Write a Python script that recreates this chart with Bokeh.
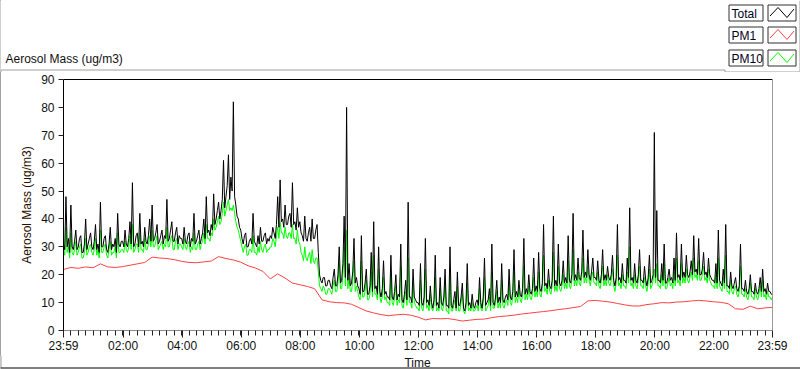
import numpy as np
from bokeh.plotting import figure
from bokeh.layouts import column
from bokeh.models import Range1d, FixedTicker, LinearAxis
from bokeh.core.properties import value
from bokeh.embed import file_html
from bokeh.resources import INLINE

# time axis: minutes since 23:59 of the previous day
STEP_MIN = 2.5
PM1_STEP_MIN = 15

TOTAL = [
    31, 29, 48, 30, 33, 28, 45, 30, 29, 32, 36, 29, 30, 33, 34, 28, 28, 31, 40, 29, 31, 33, 35, 30,
    29, 32, 38, 29, 31, 28, 46, 30, 30, 33, 34, 29, 28, 31, 37, 29, 31, 30, 33, 28, 42, 31, 30, 32,
    32, 30, 36, 31, 30, 33, 39, 31, 53, 30, 31, 34, 35, 30, 42, 31, 32, 30, 37, 32, 31, 34, 40, 32,
    45, 32, 33, 35, 38, 31, 32, 34, 36, 31, 34, 33, 47, 32, 33, 36, 39, 32, 32, 35, 37, 31, 34, 33,
    33, 31, 37, 32, 31, 34, 35, 30, 33, 32, 42, 31, 32, 34, 36, 31, 33, 35, 40, 33, 48, 35, 36, 34,
    38, 36, 49, 38, 40, 43, 46, 40, 43, 47, 61, 44, 48, 52, 63, 47, 55, 50, 82, 48, 45, 41, 40, 37,
    36, 33, 31, 34, 35, 30, 30, 32, 33, 31, 42, 32, 31, 30, 34, 31, 37, 32, 32, 34, 35, 31, 33, 32,
    34, 33, 37, 35, 33, 38, 48, 37, 54, 39, 40, 37, 45, 38, 38, 41, 42, 37, 53, 38, 39, 36, 44, 37,
    39, 35, 34, 32, 41, 33, 32, 35, 37, 32, 40, 33, 33, 36, 38, 28, 20, 18, 17, 19, 19, 16, 16, 18,
    18, 16, 15, 19, 22, 16, 16, 20, 30, 17, 18, 24, 41, 19, 80, 18, 24, 16, 17, 21, 33, 17, 19, 16,
    15, 13, 34, 14, 14, 17, 22, 13, 13, 16, 28, 14, 39, 15, 16, 13, 30, 14, 12, 15, 25, 13, 14, 12,
    12, 11, 27, 12, 11, 14, 20, 11, 13, 12, 31, 11, 10, 13, 18, 11, 46, 12, 12, 10, 22, 12, 11, 10,
    10, 9, 24, 10, 9, 12, 33, 10, 11, 9, 16, 10, 8, 11, 27, 9, 10, 8, 19, 10, 9, 12, 22, 9,
    9, 8, 30, 9, 8, 11, 14, 8, 21, 9, 9, 12, 17, 8, 7, 10, 24, 9, 10, 8, 13, 9, 8, 10,
    11, 9, 19, 10, 8, 12, 26, 9, 10, 11, 15, 9, 31, 10, 9, 12, 18, 10, 12, 10, 24, 11, 10, 12,
    13, 11, 22, 12, 11, 14, 29, 12, 14, 12, 18, 13, 12, 15, 33, 13, 15, 13, 20, 14, 13, 15, 26, 14,
    16, 14, 28, 15, 14, 17, 38, 16, 17, 15, 22, 16, 15, 18, 41, 16, 18, 16, 31, 17, 16, 18, 25, 17,
    19, 17, 34, 18, 17, 20, 42, 18, 20, 18, 26, 19, 18, 21, 36, 19, 21, 19, 29, 20, 18, 21, 26, 19,
    19, 18, 25, 18, 17, 20, 29, 18, 20, 18, 23, 19, 18, 20, 27, 18, 16, 19, 38, 18, 19, 17, 24, 18,
    18, 17, 26, 19, 44, 18, 19, 17, 24, 18, 17, 20, 29, 18, 18, 17, 23, 18, 16, 19, 27, 17, 18, 20,
    71, 19, 43, 18, 18, 17, 24, 18, 31, 17, 17, 19, 22, 18, 19, 17, 26, 18, 35, 19, 20, 18, 31, 19,
    21, 19, 27, 20, 19, 21, 25, 20, 34, 21, 22, 20, 33, 20, 20, 22, 28, 20, 21, 19, 26, 20, 19, 18,
    18, 17, 24, 17, 36, 18, 17, 16, 22, 17, 38, 16, 16, 15, 21, 16, 15, 17, 19, 15, 14, 16, 31, 15,
    15, 14, 18, 14, 13, 15, 20, 14, 14, 13, 17, 14, 13, 15, 19, 14, 22, 14, 15, 13, 17, 14, 14, 13,
    13,
]

PM10 = [
    29, 27, 37, 28, 30, 26, 35, 28, 27, 29, 32, 27, 28, 30, 31, 26, 26, 28, 33, 27, 28, 30, 31, 28,
    27, 29, 33, 27, 29, 26, 36, 28, 28, 30, 31, 27, 26, 29, 32, 27, 28, 28, 30, 26, 35, 28, 28, 29,
    29, 28, 32, 29, 28, 30, 34, 29, 38, 28, 29, 31, 31, 28, 35, 29, 29, 28, 33, 29, 29, 31, 34, 30,
    36, 30, 30, 32, 34, 29, 30, 31, 32, 29, 31, 30, 37, 30, 30, 33, 34, 29, 29, 32, 33, 29, 31, 31,
    30, 29, 33, 30, 29, 31, 32, 28, 30, 29, 35, 29, 29, 31, 32, 29, 31, 32, 35, 31, 38, 33, 33, 32,
    35, 34, 40, 36, 37, 39, 41, 38, 39, 42, 46, 41, 43, 45, 47, 43, 44, 43, 45, 42, 39, 37, 36, 34,
    32, 30, 28, 30, 31, 27, 27, 29, 29, 28, 34, 28, 28, 27, 30, 28, 32, 29, 28, 30, 31, 28, 29, 29,
    30, 30, 33, 32, 30, 34, 37, 33, 39, 35, 35, 33, 37, 34, 33, 35, 35, 33, 38, 33, 33, 31, 36, 32,
    31, 28, 27, 25, 30, 26, 25, 27, 28, 24, 29, 25, 24, 26, 26, 21, 16, 15, 14, 16, 15, 13, 13, 15,
    15, 14, 13, 16, 18, 14, 14, 17, 24, 15, 15, 20, 30, 16, 36, 15, 19, 14, 14, 18, 25, 14, 16, 14,
    12, 11, 25, 12, 12, 14, 18, 11, 11, 13, 21, 12, 27, 13, 13, 11, 22, 12, 10, 12, 19, 11, 12, 10,
    10, 9, 20, 10, 9, 12, 16, 9, 11, 10, 23, 9, 8, 11, 14, 9, 26, 10, 10, 8, 17, 10, 9, 8,
    8, 7, 18, 8, 7, 10, 22, 8, 9, 7, 13, 8, 7, 9, 19, 7, 8, 7, 15, 8, 7, 10, 17, 7,
    7, 6, 20, 7, 7, 9, 11, 7, 16, 7, 7, 10, 13, 7, 6, 8, 17, 7, 8, 7, 10, 7, 7, 8,
    9, 7, 15, 8, 7, 10, 19, 7, 8, 9, 12, 7, 21, 8, 8, 10, 14, 8, 10, 8, 18, 9, 8, 10,
    11, 9, 17, 10, 9, 12, 21, 10, 12, 10, 15, 11, 10, 13, 23, 11, 13, 11, 16, 12, 11, 13, 19, 12,
    14, 12, 21, 13, 12, 15, 27, 14, 15, 13, 18, 14, 13, 16, 28, 14, 16, 14, 23, 15, 14, 16, 20, 15,
    17, 15, 25, 16, 15, 18, 29, 16, 18, 16, 21, 17, 16, 19, 26, 17, 19, 17, 23, 18, 16, 19, 21, 17,
    17, 16, 21, 16, 15, 18, 23, 16, 18, 16, 20, 17, 16, 18, 22, 16, 14, 17, 27, 16, 17, 15, 20, 16,
    16, 15, 21, 17, 30, 16, 17, 15, 20, 16, 15, 18, 23, 16, 16, 15, 19, 16, 14, 17, 22, 15, 16, 18,
    22, 17, 24, 16, 16, 15, 20, 16, 24, 15, 15, 17, 19, 16, 17, 15, 21, 16, 26, 17, 18, 16, 24, 17,
    19, 17, 22, 18, 17, 19, 21, 18, 26, 19, 20, 18, 25, 18, 18, 20, 23, 18, 19, 17, 22, 18, 17, 16,
    16, 15, 20, 15, 26, 16, 15, 14, 19, 15, 27, 14, 14, 13, 18, 14, 13, 15, 16, 13, 12, 14, 23, 13,
    13, 12, 15, 12, 11, 13, 17, 12, 12, 11, 15, 12, 11, 13, 16, 12, 18, 12, 13, 11, 14, 12, 12, 11,
    12,
]

PM1 = [
    21.9, 22.6, 22.3, 22.8, 22.5, 23.9, 22.8, 22.6,
    22.9, 23.4, 23.9, 24.4, 26.3, 26.0, 25.8, 25.4,
    24.8, 24.4, 24.3, 24.6, 24.9, 26.5, 25.8, 25.3,
    24.5, 23.2, 22.4, 21.2, 18.5, 20.3, 18.8, 17.0,
    16.4, 15.8, 15.0, 11.0, 10.3, 10.0, 9.9, 9.4,
    8.2, 7.0, 6.3, 5.7, 5.3, 5.6, 5.8, 5.5,
    4.8, 3.8, 4.3, 4.2, 4.3, 3.9, 3.4, 3.7,
    4.0, 4.1, 4.6, 5.0, 5.2, 5.5, 5.9, 6.2,
    6.5, 6.8, 7.1, 7.5, 7.8, 8.2, 8.6, 10.6,
    10.8, 10.5, 10.2, 9.7, 9.2, 8.8, 8.8, 9.3,
    9.6, 10.0, 9.9, 10.2, 10.3, 10.6, 10.8, 10.6,
    10.3, 10.1, 9.6, 7.8, 7.6, 8.7, 7.8, 8.1,
    8.3,
]

X_TICKS = [0, 121, 241, 361, 481, 601, 721, 841, 961, 1081, 1201, 1321, 1440]
X_LABELS = ["23:59", "02:00", "04:00", "06:00", "08:00", "10:00", "12:00",
            "14:00", "16:00", "18:00", "20:00", "22:00", "23:59"]
Y_TICKS = [0, 10, 20, 30, 40, 50, 60, 70, 80, 90]

SERIES_NAMES = ["Total", "PM1", "PM10"]
SERIES_COLORS = ["#000000", "#ff4040", "#00ff00"]
TITLE = "Aerosol Mass (ug/m3)"
X_TITLE = "Time"

FONT = "Liberation Sans"
TEXT_COLOR = "#101010"
PANEL_GRAY = "#a0a0a0"


def strip(height):
    f = figure(width=800, height=height, output_backend="svg", toolbar_location=None,
               x_range=Range1d(0, 800), y_range=Range1d(height, 0),
               x_axis_location=None, y_axis_location=None,
               min_border_left=0, min_border_right=0, min_border_top=0, min_border_bottom=0,
               outline_line_color=None, background_fill_color="white", border_fill_color="white")
    f.frame_align = False
    f.grid.visible = False
    return f


# ---------------- header strip: title + LabVIEW-style legend ----------------
TOP_H = 72
top = strip(TOP_H)
top.text(x=[5], y=[58], text=[TITLE], text_font=value(FONT), text_font_size=value("12px"),
         text_color=TEXT_COLOR, text_baseline="middle", text_align="left")
top.multi_line(xs=[[0.5, 0.5, 724.5, 724.5, 800], [799.5, 799.5]],
               ys=[[72, 69.5, 69.5, 71.5, 71.5], [0, 71.5]],
               line_color=PANEL_GRAY, line_width=1)

row_tops = [4.5, 26.5, 49.5]
row_h = 16
for name, color, rt in zip(SERIES_NAMES, SERIES_COLORS, row_tops):
    top.quad(left=[728.5, 767.5], right=[762.5, 795.5], top=[rt, rt], bottom=[rt + row_h, rt + row_h],
             fill_alpha=0, line_color="#303030", line_width=1)
    top.text(x=[731], y=[rt + row_h / 2 + 0.5], text=[name], text_font=value(FONT),
             text_font_size=value("12px"), text_color="#000020",
             text_baseline="middle", text_align="left")
    top.line(x=[769.5, 777.5, 786.5, 793.5], y=[rt + 11, rt + 2.5, rt + 12.5, rt + 4],
             line_color=color, line_width=1)

# ---------------- main chart ----------------
MAIN_H = 283
p = figure(width=800, height=MAIN_H, output_backend="svg", toolbar_location=None,
           x_range=Range1d(0, 1440), y_range=Range1d(0, 90),
           min_border_left=63, min_border_right=28, min_border_top=7, min_border_bottom=25,
           background_fill_color="white", border_fill_color=None,
           outline_line_color=None)
p.frame_align = False
p.grid.visible = False

t_total = np.arange(len(TOTAL)) * STEP_MIN
t_pm10 = np.arange(len(PM10)) * STEP_MIN
t_pm1 = np.arange(len(PM1)) * PM1_STEP_MIN

p.line(t_pm10, PM10, line_color=SERIES_COLORS[2], line_width=1)
p.line(t_pm1, PM1, line_color=SERIES_COLORS[1], line_width=1)
p.line(t_total, TOTAL, line_color=SERIES_COLORS[0], line_width=1)

xa = p.xaxis[0]
xa.ticker = FixedTicker(ticks=X_TICKS, minor_ticks=list(range(0, 1441, 15)))
xa.major_label_overrides = {t: l for t, l in zip(X_TICKS, X_LABELS)}
xa.axis_line_color = "#8a8a8a"
xa.major_tick_line_color = "#202020"
xa.minor_tick_line_color = "#202020"
xa.major_tick_out = 7
xa.major_tick_in = 0
xa.minor_tick_out = 5
xa.minor_tick_in = 0
xa.major_label_standoff = 1
xa.major_label_text_font = FONT
xa.major_label_text_font_size = "12px"
xa.major_label_text_color = TEXT_COLOR

ya = p.yaxis[0]
ya.ticker = FixedTicker(ticks=Y_TICKS, minor_ticks=[])
ya.axis_line_color = "#000000"
ya.major_tick_line_color = "#202020"
ya.major_tick_out = 5
ya.major_tick_in = 0
ya.minor_tick_out = 0
ya.minor_tick_in = 0
ya.major_label_standoff = 4
ya.major_label_text_font = FONT
ya.major_label_text_font_size = "12px"
ya.major_label_text_color = TEXT_COLOR
ya.axis_label = TITLE
ya.axis_label_text_font = FONT
ya.axis_label_text_font_size = "12px"
ya.axis_label_text_font_style = "normal"
ya.axis_label_text_color = "#2a1000"
ya.axis_label_standoff = 4

# plot-area border: top black, right gray (bare axes without ticks/labels)
top_edge = LinearAxis(ticker=FixedTicker(ticks=[]), axis_line_color="#000000",
                      major_tick_out=0, major_tick_in=0, minor_tick_out=0, minor_tick_in=0,
                      major_label_standoff=0, major_label_text_font_size="0px")
right_edge = LinearAxis(ticker=FixedTicker(ticks=[]), axis_line_color="#9a9a9a",
                        major_tick_out=0, major_tick_in=0, minor_tick_out=0, minor_tick_in=0,
                        major_label_standoff=0, major_label_text_font_size="0px")
p.add_layout(top_edge, "above")
p.add_layout(right_edge, "right")

# ---------------- footer strip: x-axis title and panel edge ----------------
BOT_H = 369 - TOP_H - MAIN_H
bot = strip(BOT_H)
bot.text(x=[417], y=[7], text=[X_TITLE], text_font=value(FONT), text_font_size=value("12px"),
         text_color=TEXT_COLOR, text_baseline="middle", text_align="center")
bot.multi_line(xs=[[0.5, 0.5]], ys=[[0, 12.5]], line_color=PANEL_GRAY, line_width=1)
bot.line(x=[0, 800], y=[12.5, 12.5], line_color="#000000", line_width=1)

layout = column(top, p, bot, spacing=0,
                styles={"box-shadow": "inset 1px 0 0 " + PANEL_GRAY, "background-color": "white"})
open("out.html", "w").write(file_html(layout, INLINE))
